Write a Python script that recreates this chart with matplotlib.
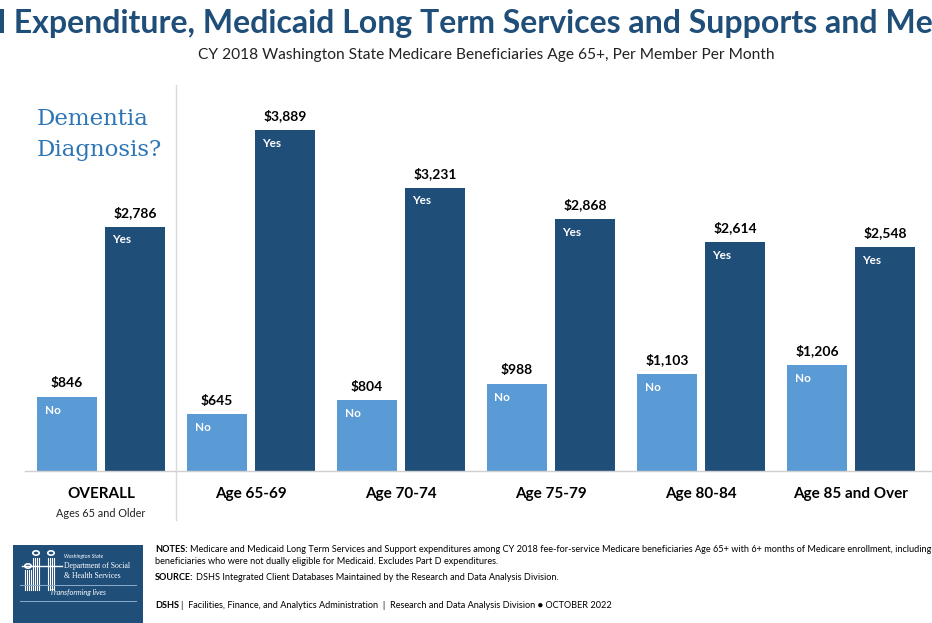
import matplotlib
matplotlib.use("Agg")
import matplotlib.pyplot as plt
from matplotlib.patches import Rectangle, Circle
from matplotlib.lines import Line2D

categories = ["OVERALL", "Age 65-69", "Age 70-74", "Age 75-79", "Age 80-84", "Age 85 and Over"]
no_values = [846, 645, 804, 988, 1103, 1206]
yes_values = [2786, 3889, 3231, 2868, 2614, 2548]

no_color = "#5B9BD5"
yes_color = "#1F4E79"
title_color = "#1F4E79"

plt.rcParams["font.family"] = ["Lato", "DejaVu Sans"]

W, H = 932, 623
fig = plt.figure(figsize=(W / 100, H / 100), dpi=100)


def px(xp, yp):
    # pixel position from top-left -> figure fraction
    return xp / W, 1 - yp / H


# axes placed in pixel terms: baseline at y=471, top at y=85
ax = fig.add_axes([0, (H - 471) / H, 1, (471 - 85) / H])
ax.set_xlim(-101 / 150, (W - 101) / 150)
ax.set_ylim(0, 4400)
ax.axis("off")

x = list(range(len(categories)))
off = 34 / 150
bw = 60 / 150
ax.bar([i - off for i in x], no_values, width=bw, color=no_color)
ax.bar([i + off for i in x], yes_values, width=bw, color=yes_color)

for i in x:
    ax.text(i - off, no_values[i] + 90, "${:,}".format(no_values[i]), ha="center", va="bottom",
            fontsize=10, fontweight="bold", color="black")
    ax.text(i + off, yes_values[i] + 90, "${:,}".format(yes_values[i]), ha="center", va="bottom",
            fontsize=10, fontweight="bold", color="black")
    ax.text(i - off - bw / 2 + 0.05, no_values[i] - 90, "No", ha="left", va="top",
            fontsize=8.5, fontweight="bold", color="white")
    ax.text(i + off - bw / 2 + 0.05, yes_values[i] - 90, "Yes", ha="left", va="top",
            fontsize=8.5, fontweight="bold", color="white")
    ax.text(i, -180, categories[i], ha="center", va="top", fontsize=11, fontweight="bold",
            color="black")

ax.text(0, -420, "Ages 65 and Older", ha="center", va="top", fontsize=7.8, color="#222222")

# baseline and separator
fig.add_artist(Line2D([25 / W, 1], [(H - 471) / H] * 2, color="#D0D0D0", lw=1))
fig.add_artist(Line2D([176 / W] * 2, [(H - 520) / H, (H - 85) / H], color="#D9D9D9", lw=1))

# titles
fig.text(*px(-2, 24), "l Expenditure, Medicaid Long Term Services and Supports and Me",
         ha="left", va="center", fontsize=23, fontweight="bold", color=title_color)
fig.text(*px(486, 55),
         "CY 2018 Washington State Medicare Beneficiaries Age 65+, Per Member Per Month",
         ha="center", va="center", fontsize=11.2, color="#222222")

fig.text(*px(37, 119), "Dementia", ha="left", va="center", fontsize=16.5,
         color="#2E75B6", family=["DejaVu Serif"])
fig.text(*px(37, 150), "Diagnosis?", ha="left", va="center", fontsize=16.5,
         color="#2E75B6", family=["DejaVu Serif"])

# logo box
fig.add_artist(Rectangle((13 / W, 0), 130 / W, 78 / H, transform=fig.transFigure,
                         facecolor="#1F4E79", edgecolor="none"))
# little people icon
for hx, hy, top, bot in [(36, 553, 558, 590), (51, 553, 558, 590), (28, 566, 570, 590)]:
    fig.add_artist(Circle(px(hx, hy), 3.2 / W, transform=fig.transFigure,
                          facecolor="none", edgecolor="white", lw=1.2))
    for dx in (-3, -1, 1, 3):
        fig.add_artist(Line2D([(hx + dx) / W] * 2, [1 - top / H, 1 - bot / H],
                              color="white", lw=0.8))
fig.add_artist(Line2D([22 / W, 62 / W], [1 - 566 / H] * 2, color="white", lw=1))
fig.text(*px(64, 556), "Washington State", fontsize=3.8, color="white", style="italic",
         va="center")
fig.text(*px(64, 566), "Department of Social", fontsize=5.6, color="white", va="center",
         family=["Liberation Serif"])
fig.text(*px(64, 576), "& Health Services", fontsize=5.6, color="white", va="center",
         family=["Liberation Serif"])
fig.add_artist(Line2D([20 / W, 136 / W], [(H - 585) / H] * 2, color="#8FAACC", lw=0.7))
fig.text(*px(78, 593), "Transforming lives", ha="center", va="center", fontsize=5.3,
         color="white", style="italic")
fig.add_artist(Line2D([20 / W, 136 / W], [(H - 601) / H] * 2, color="#8FAACC", lw=0.7))

# notes: bold label followed by regular text
fig.canvas.draw()
renderer = fig.canvas.get_renderer()
notes_size = 6.6


def note_line(yp, bold, rest):
    xp = 155
    if bold:
        t = fig.text(*px(xp, yp), bold, fontsize=notes_size, fontweight="bold", va="center")
        xp += t.get_window_extent(renderer).width + 2
    fig.text(*px(xp, yp), rest, fontsize=notes_size, va="center")


note_line(549, "NOTES:", "Medicare and Medicaid Long Term Services and Support expenditures among CY 2018 "
          "fee-for-service Medicare beneficiaries Age 65+ with 6+ months of Medicare enrollment, including")
note_line(562, "", "beneficiaries who were not dually eligible for Medicaid. Excludes Part D expenditures.")
note_line(578, "SOURCE:", "DSHS Integrated Client Databases Maintained by the Research and Data Analysis Division.")
note_line(605, "DSHS", "|  Facilities, Finance, and Analytics Administration  |  Research and Data Analysis Division "
          "\u25CF OCTOBER 2022")

fig.savefig("out.png", dpi=100)
